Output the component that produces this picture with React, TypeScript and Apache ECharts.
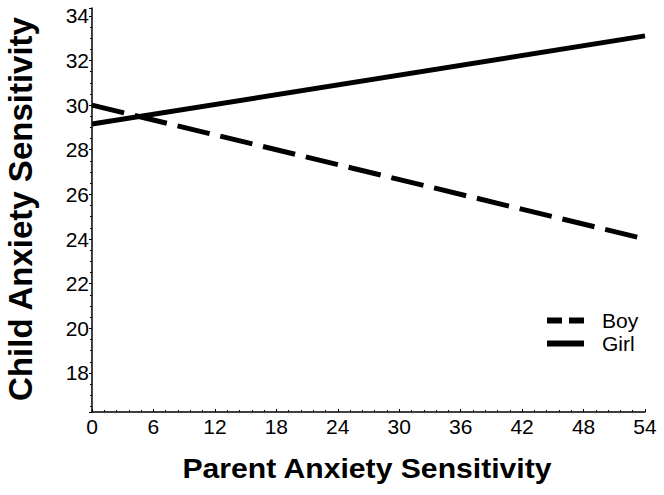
import React, { useEffect, useRef } from "react";
import * as echarts from "echarts";

const xEnds = [0, 54];
const boyValues = [30.0, 24.0];
const girlValues = [29.15, 33.1];
const seriesNames = ["Boy", "Girl"];
const xTitle = "Parent Anxiety Sensitivity";
const yTitle = "Child Anxiety Sensitivity";

const FONT = "'Liberation Sans', Arial, sans-serif";

export default function App() {
  const ref = useRef<HTMLDivElement>(null);
  useEffect(() => {
    if (!ref.current) return;
    const chart = echarts.init(ref.current, undefined, { renderer: "svg" });
    const toPairs = (vals: number[]) => xEnds.map((x, i) => [x, vals[i]]);
    chart.setOption({
      animation: false,
      backgroundColor: "#ffffff",
      textStyle: { fontFamily: FONT },
      grid: { left: 92, right: 19, top: 8, bottom: 83 },
      xAxis: {
        type: "value",
        min: 0,
        max: 54,
        interval: 6,
        axisLine: { show: true, lineStyle: { color: "#000", width: 1.5 } },
        axisTick: { show: true, length: 3, inside: true, lineStyle: { color: "#000" } },
        minorTick: { show: true, splitNumber: 5, length: 2, lineStyle: { color: "#000" } },
        splitLine: { show: false },
        axisLabel: { color: "#000", fontSize: 21, fontFamily: FONT, margin: 4 },
      },
      yAxis: {
        type: "value",
        min: 16.25,
        max: 34.35,
        splitNumber: 9,
        axisLine: { show: true, lineStyle: { color: "#000", width: 1.5 } },
        axisTick: { show: true, length: 3, lineStyle: { color: "#000" } },
        minorTick: { show: true, splitNumber: 4, length: 2, lineStyle: { color: "#000" } },
        splitLine: { show: false },
        axisLabel: {
          color: "#000",
          fontSize: 21,
          fontFamily: FONT,
          margin: 3,
          formatter: (v: number) =>
            Math.abs(v - Math.round(v)) < 1e-6 && Math.round(v) % 2 === 0 ? String(Math.round(v)) : "",
        },
      },
      legend: {
        orient: "vertical",
        left: 542,
        top: 305,
        itemWidth: 37,
        itemHeight: 6,
        itemGap: 2,
        textStyle: { color: "#000", fontSize: 21, lineHeight: 21, fontFamily: FONT, padding: [0, 0, 0, 13] },
        data: [
          { name: seriesNames[0], icon: "path://M0,0H15V6H0ZM22,0H37V6H22Z", itemStyle: { color: "#000" } },
          { name: seriesNames[1], icon: "rect", itemStyle: { color: "#000" } },
        ],
      },
      series: [
        {
          name: seriesNames[0],
          type: "line",
          data: toPairs(boyValues),
          symbol: "none",
          lineStyle: { color: "#000", width: 5, type: [33, 11] },
          itemStyle: { color: "#000" },
        },
        {
          name: seriesNames[1],
          type: "line",
          data: toPairs(girlValues),
          symbol: "none",
          lineStyle: { color: "#000", width: 5, type: "solid" },
          itemStyle: { color: "#000" },
        },
      ],
      graphic: [
        {
          type: "text",
          x: 367,
          y: 468,
          scaleX: 1.077,
          style: {
            text: xTitle,
            fontSize: 28,
            fontWeight: "bold",
            fontFamily: FONT,
            fill: "#000",
            align: "center",
            verticalAlign: "middle",
          },
        },
        {
          type: "text",
          x: 20,
          y: 209,
          rotation: Math.PI / 2,
          style: {
            text: yTitle,
            fontSize: 33,
            fontWeight: "bold",
            fontFamily: FONT,
            fill: "#000",
            align: "center",
            verticalAlign: "middle",
          },
        },
      ],
    });
    return () => chart.dispose();
  }, []);
  return <div ref={ref} style={{ width: 664, height: 495, position: "absolute", left: 0, top: 0 }} />;
}
